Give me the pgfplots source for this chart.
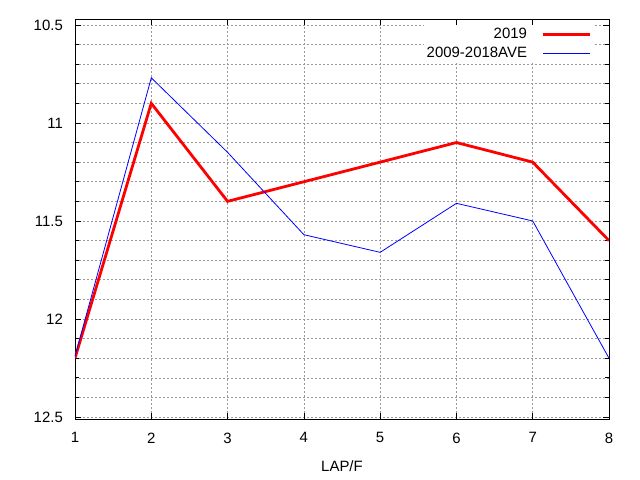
\documentclass[border=0pt]{standalone}
\usepackage{pgfplots}
\pgfplotsset{compat=1.18}
\usepackage{fontspec}
\setmainfont{Liberation Sans}[Scale=1.5]
\begin{document}
\begin{tikzpicture}
\path[use as bounding box] (-75bp,-61bp) rectangle (565bp,419bp);
\begin{axis}[
  scale only axis, width=534bp, height=400bp,
  xmin=1, xmax=8, ymin=10.47, ymax=12.51, y dir=reverse,
  xtick={1,2,3,4,5,6,7,8},
  xticklabels={1,2,3,4,5,6,7,8},
  ytick={10.5,11,11.5,12,12.5},
  yticklabels={10.5,11,11.5,12,12.5},
  minor y tick num=4,
  grid=both,
  major grid style={gray!80, dash pattern=on 2bp off 2bp, line width=0.6bp},
  minor grid style={gray!80, dash pattern=on 2bp off 2bp, line width=0.6bp},
  major tick length=6bp, minor tick length=4bp,
  tick style={black, line width=0.7bp},
  axis line style={black, line width=0.9bp},
  yticklabel style={xshift=-7bp},
  xticklabel style={yshift=-8.5bp},
  xlabel={LAP/F},
  xlabel style={yshift=-7.5bp},
  legend cell align=right,
  legend plot pos=right,
  legend style={at={(rel axis cs:0.97,0.985)}, anchor=north east, draw=none, fill=white,
    row sep=2bp, column sep=13bp, inner sep=1bp},
  legend image code/.code={\draw[#1] (0bp,0bp) -- (47bp,0bp);},
]
\addplot[red, line width=2.8bp] coordinates {
(1,12.2) (2,10.9) (3,11.4) (4,11.3) (5,11.2) (6,11.1) (7,11.2) (8,11.6)};
\addlegendentry{2019}
\addplot[blue, line width=0.8bp] coordinates {
(1,12.19) (2,10.77) (3,11.15) (4,11.57) (5,11.66) (6,11.41) (7,11.5) (8,12.2)};
\addlegendentry{2009-2018AVE}
\end{axis}
\end{tikzpicture}
\end{document}
